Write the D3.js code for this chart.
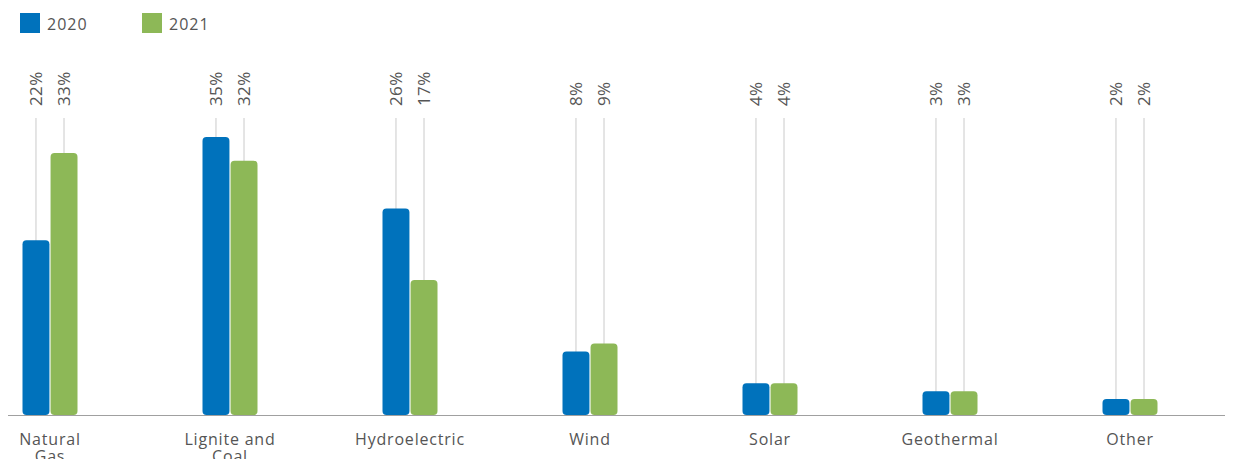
<!DOCTYPE html>
<html><head><meta charset="utf-8">
<script src="https://cdn.jsdelivr.net/npm/d3@7"></script>
<style>body{margin:0;background:#fff}svg{display:block}text{font-family:"Open Sans",Lato,sans-serif}</style>
</head><body><svg id="c" width="1239" height="459"></svg>
<script>
const categories = ["Natural Gas","Lignite and Coal","Hydroelectric","Wind","Solar","Geothermal","Other"];
const seriesNames = ["2020","2021"];
const values2020 = [22,35,26,8,4,3,2];
const values2021 = [33,32,17,9,4,3,2];
const colors = ["#0072bc","#8db857"];

const svg = d3.select("#c");
const baseY = 415;
const x0 = d3.scaleBand().domain(categories).range([-40, 1220]).paddingInner(0).paddingOuter(0);
const x1 = d3.scaleBand().domain(seriesNames).range([x0.bandwidth()/2 - 27.5, x0.bandwidth()/2 + 27.5]).paddingInner(0.04);
const y = d3.scaleLinear().domain([0, 35]).range([baseY, 137]);

const data = categories.map((c,i)=>({cat:c, vals:[values2020[i], values2021[i]]}));

const g = svg.append("g");
data.forEach(d=>{
  d.vals.forEach((v,j)=>{
    const cx = x0(d.cat) + x1(seriesNames[j]) + x1.bandwidth()/2;
    g.append("line").attr("x1",cx).attr("x2",cx).attr("y1",118).attr("y2",baseY)
      .attr("stroke","#dcdcdc").attr("stroke-width",1.5);
    g.append("text").attr("transform",`translate(${cx+6},106) rotate(-90)`)
      .attr("font-size",17).attr("fill","#555").attr("letter-spacing",0.4).text(v+"%");
  });
});

data.forEach(d=>{
  d.vals.forEach((v,j)=>{
    g.append("rect").attr("x", x0(d.cat)+x1(seriesNames[j])).attr("width", x1.bandwidth())
      .attr("y", y(v)).attr("height", baseY - y(v)).attr("rx",4).attr("ry",4)
      .attr("fill", colors[j]);
  });
});

svg.append("line").attr("x1",8).attr("x2",1225).attr("y1",baseY+0.5).attr("y2",baseY+0.5)
  .attr("stroke","#a0a0a0").attr("stroke-width",1.2);

const xa = svg.append("g").attr("transform",`translate(0,${baseY})`)
  .call(d3.axisBottom(x0).tickSize(0).tickPadding(0));
xa.select(".domain").remove();
xa.selectAll(".tick text").each(function(d){
  const t = d3.select(this);
  t.text(null).attr("font-size",16).attr("fill","#555").attr("letter-spacing",0.8)
   .attr("font-family","\"Open Sans\",Lato,sans-serif").attr("dy",null).attr("y",0);
  let lines = [d];
  if(d==="Natural Gas") lines=["Natural","Gas"];
  if(d==="Lignite and Coal") lines=["Lignite and","Coal"];
  lines.forEach((l,k)=>t.append("tspan").attr("x",0).attr("y",30+k*17).text(l));
});

seriesNames.forEach((s,j)=>{
  const lx = 20 + j*122;
  svg.append("rect").attr("x",lx).attr("y",13).attr("width",20).attr("height",20).attr("fill",colors[j]);
  svg.append("text").attr("x",lx+27).attr("y",30).attr("font-size",16).attr("letter-spacing",1)
    .attr("fill","#555").text(s);
});
</script></body></html>
